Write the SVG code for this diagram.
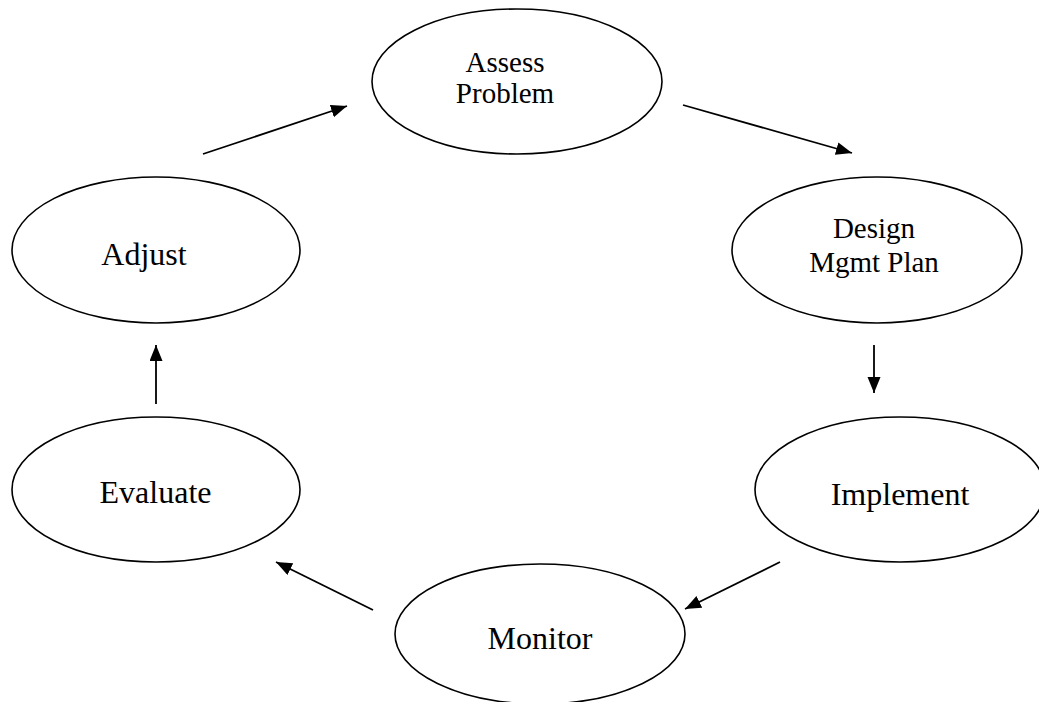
<svg xmlns="http://www.w3.org/2000/svg" width="1039" height="702" viewBox="0 0 1039 702">
<style>
.node ellipse{fill:#fff;stroke:#000;stroke-width:1.6}
.node text{font-family:"Liberation Serif","Times New Roman",serif;fill:#000;text-anchor:middle}
.big{font-size:32px}
.small{font-size:29px}
.conn line{stroke:#000;stroke-width:1.8;marker-end:url(#ah)}
</style>
<defs>
<marker id="ah" markerUnits="userSpaceOnUse" markerWidth="17" markerHeight="14" refX="16" refY="6.5" orient="auto">
<path d="M0,0 L16,6.5 L0,13 z" fill="#000"/>
</marker>
</defs>
<rect width="1039" height="702" fill="#fff"/>
<g id="n-assess" class="node">
<ellipse cx="517" cy="81.5" rx="145" ry="72.5"/>
<text class="small" x="505" y="72">Assess</text>
<text class="small" x="505" y="103">Problem</text>
</g>
<g id="n-design" class="node">
<ellipse cx="877" cy="250" rx="145" ry="73"/>
<text class="small" x="874" y="238">Design</text>
<text class="small" x="874" y="272">Mgmt Plan</text>
</g>
<g id="n-implement" class="node">
<ellipse cx="900" cy="489.5" rx="145" ry="72.5"/>
<text class="big" x="900" y="505">Implement</text>
</g>
<g id="n-monitor" class="node">
<ellipse cx="540" cy="634" rx="145" ry="70"/>
<text class="big" x="540" y="649">Monitor</text>
</g>
<g id="n-evaluate" class="node">
<ellipse cx="156" cy="489.5" rx="144" ry="72.5"/>
<text class="big" x="155.5" y="503">Evaluate</text>
</g>
<g id="n-adjust" class="node">
<ellipse cx="156" cy="250" rx="144" ry="73"/>
<text class="big" x="144" y="265">Adjust</text>
</g>
<g id="connectors" class="conn">
<line x1="203" y1="154" x2="347" y2="106"/>
<line x1="683" y1="105" x2="852" y2="153"/>
<line x1="874" y1="345" x2="874" y2="393"/>
<line x1="780" y1="562" x2="685" y2="609"/>
<line x1="373" y1="610" x2="276" y2="562"/>
<line x1="156" y1="404" x2="156" y2="345"/>
</g>
</svg>
